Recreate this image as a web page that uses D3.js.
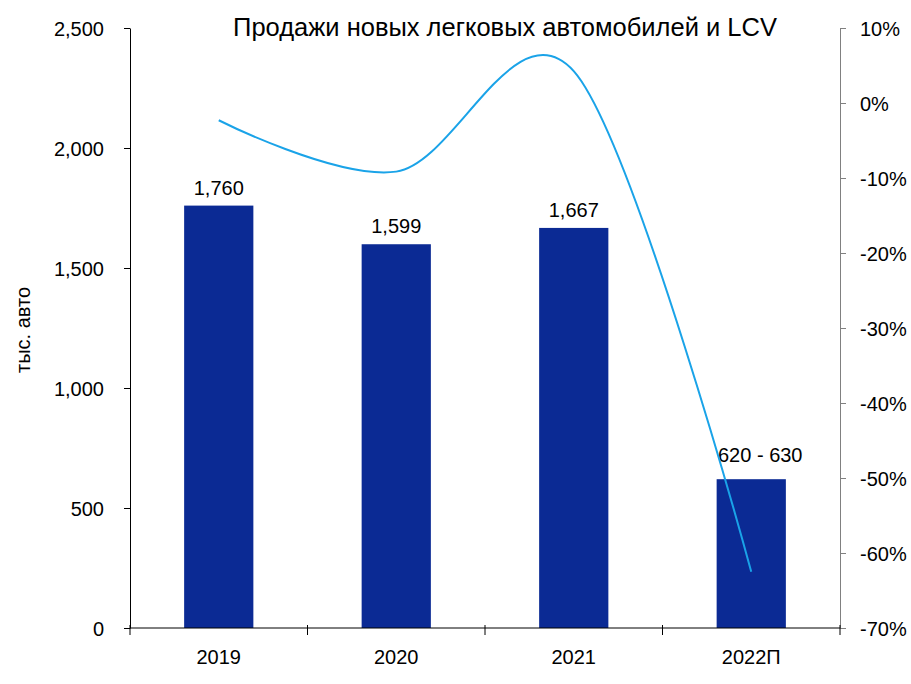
<!DOCTYPE html>
<html>
<head>
<meta charset="utf-8">
<script src="https://cdn.jsdelivr.net/npm/d3@7"></script>
<style>
  body { margin: 0; background: #fff; }
  text { font-family: Arial, "Liberation Sans", sans-serif; fill: #000; }
</style>
</head>
<body>
<script>
// data
var years = ["2019", "2020", "2021", "2022П"];
var sales = [1760, 1599, 1667, 620];
var salesLabels = ["1,760", "1,599", "1,667", "620 - 630"];
var growth = [-2.3, -9.15, 4.25, -62.5];
var leftTicks = [0, 500, 1000, 1500, 2000, 2500];
var rightTicks = [10, 0, -10, -20, -30, -40, -50, -60, -70];

var W = 911, H = 684;
var mLeft = 130, mRight = 840, mTop = 28, mBottom = 628;

var svg = d3.select("body").append("svg")
    .attr("width", W)
    .attr("height", H);

var x = d3.scaleBand().domain(years).range([mLeft, mRight]).paddingInner(0.61).paddingOuter(0.305);
var xc = d3.scaleBand().domain(years).range([mLeft, mRight]); // for ticks / centers
var y = d3.scaleLinear().domain([0, 2500]).range([mBottom, mTop]);
var y2 = d3.scaleLinear().domain([-70, 10]).range([mBottom, mTop]);

// bars
svg.selectAll("rect.bar")
    .data(sales)
    .enter().append("rect")
    .attr("class", "bar")
    .attr("x", function(d, i) { return x(years[i]); })
    .attr("width", x.bandwidth())
    .attr("y", function(d) { return y(d); })
    .attr("height", function(d) { return y(0) - y(d); })
    .attr("fill", "#0b2a94");

// bar labels (the forecast label sits a bit higher and to the right, like in the source)
svg.selectAll("text.lbl")
    .data(sales)
    .enter().append("text")
    .attr("class", "lbl")
    .attr("x", function(d, i) { return xc(years[i]) + xc.bandwidth() / 2 + (i == 3 ? 9 : 0); })
    .attr("y", function(d, i) { return y(d) - (i == 3 ? 17 : 11); })
    .attr("text-anchor", "middle")
    .style("font-size", "20px")
    .text(function(d, i) { return salesLabels[i]; });

// growth line
var line = d3.line()
    .x(function(d, i) { return xc(years[i]) + xc.bandwidth() / 2; })
    .y(function(d) { return y2(d); })
    .curve(d3.curveCardinal.tension(0));

svg.append("path")
    .datum(growth)
    .attr("d", line)
    .attr("fill", "none")
    .attr("stroke", "#1aa3e8")
    .attr("stroke-width", 2);

// left axis
var gl = svg.append("g")
    .attr("transform", "translate(" + mLeft + ",0)")
    .call(d3.axisLeft(y).tickValues(leftTicks).tickFormat(d3.format(",")).tickSize(6).tickSizeOuter(0).tickPadding(20));
gl.select(".domain").attr("stroke", "#000");
gl.selectAll("text").style("font-size", "20px").attr("dy", "0.35em");

// right axis
var gr = svg.append("g")
    .attr("transform", "translate(" + mRight + ",0)")
    .call(d3.axisRight(y2).tickValues(rightTicks).tickFormat(function(d) { return d + "%"; }).tickSize(6).tickSizeOuter(0).tickPadding(14));
gr.select(".domain").attr("stroke", "#808080");
gr.selectAll(".tick line").attr("stroke", "#808080");
gr.selectAll("text").style("font-size", "20px").attr("dy", "0.35em");

// x axis
var gx = svg.append("g")
    .attr("transform", "translate(0," + mBottom + ")");
gx.append("line")
    .attr("x1", mLeft).attr("x2", mRight)
    .attr("stroke", "#000");
var bounds = years.map(function(d) { return xc(d); }).concat([mRight]);
gx.selectAll("line.tk")
    .data(bounds)
    .enter().append("line")
    .attr("class", "tk")
    .attr("x1", function(d) { return d; })
    .attr("x2", function(d) { return d; })
    .attr("y1", -3)
    .attr("y2", 7)
    .attr("stroke", "#000");
gx.selectAll("text")
    .data(years)
    .enter().append("text")
    .attr("x", function(d) { return xc(d) + xc.bandwidth() / 2; })
    .attr("y", 36)
    .attr("text-anchor", "middle")
    .style("font-size", "20px")
    .text(function(d) { return d; });

// title
svg.append("text")
    .attr("x", 505)
    .attr("y", 36)
    .attr("text-anchor", "middle")
    .style("font-size", "25.5px")
    .text("Продажи новых легковых автомобилей и LCV");

// y axis title
svg.append("text")
    .attr("transform", "translate(30,330) rotate(-90)")
    .attr("text-anchor", "middle")
    .style("font-size", "20px")
    .text("тыс. авто");
</script>
</body>
</html>
